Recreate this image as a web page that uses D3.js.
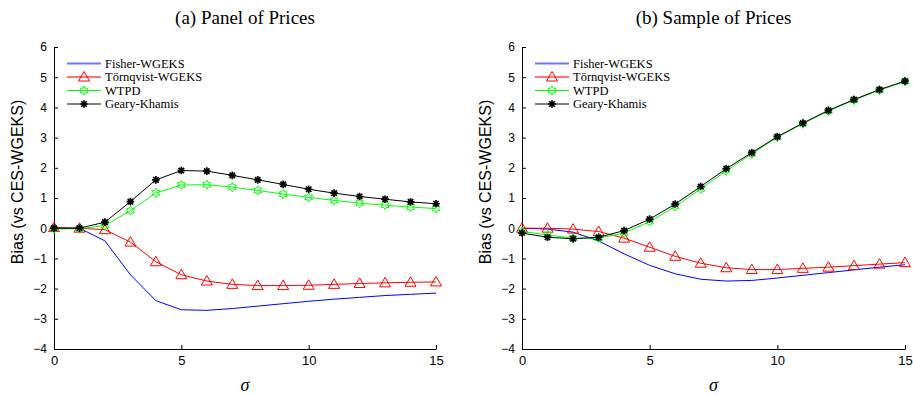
<!DOCTYPE html>
<html>
<head>
<meta charset="utf-8">
<script src="https://cdn.jsdelivr.net/npm/d3@7"></script>
<style>
  body { margin: 0; background: #fff; }
  .tick text { font-family: 'Liberation Sans', Arial, sans-serif; }
</style>
</head>
<body>
<svg id="chart" width="913" height="396"></svg>
<script>
// sigma values on the x axis
const sigma = [0, 1, 2, 3, 4, 5, 6, 7, 8, 9, 10, 11, 12, 13, 14, 15]
const xTicks = [0, 5, 10, 15]
const yTicks = [-4, -3, -2, -1, 0, 1, 2, 3, 4, 5, 6]

// (a) Panel of Prices
const fisherA = [0, 0, -0.42, -1.54, -2.40, -2.70, -2.72, -2.66, -2.58, -2.50, -2.42, -2.35, -2.29, -2.23, -2.19, -2.15]
const tornqvistA = [0.02, 0.0, -0.05, -0.46, -1.11, -1.54, -1.75, -1.86, -1.90, -1.90, -1.89, -1.86, -1.83, -1.81, -1.79, -1.78]
const wtpdA = [-0.02, -0.02, 0.09, 0.58, 1.17, 1.43, 1.44, 1.36, 1.25, 1.13, 1.02, 0.92, 0.83, 0.76, 0.70, 0.65]
const gearyA = [0, 0, 0.20, 0.88, 1.60, 1.91, 1.89, 1.75, 1.60, 1.45, 1.29, 1.16, 1.05, 0.96, 0.87, 0.81]

// (b) Sample of Prices
const fisherB = [0, -0.03, -0.13, -0.42, -0.85, -1.23, -1.51, -1.69, -1.75, -1.73, -1.65, -1.56, -1.47, -1.38, -1.29, -1.21]
const tornqvistB = [0.0, 0.0, -0.03, -0.11, -0.33, -0.63, -0.93, -1.16, -1.31, -1.37, -1.37, -1.33, -1.29, -1.24, -1.19, -1.14]
const wtpdB = [-0.11, -0.22, -0.33, -0.33, -0.16, 0.22, 0.72, 1.30, 1.90, 2.46, 3.01, 3.46, 3.88, 4.24, 4.57, 4.86]
const gearyB = [-0.16, -0.30, -0.35, -0.30, -0.08, 0.30, 0.80, 1.38, 1.97, 2.50, 3.03, 3.48, 3.90, 4.26, 4.59, 4.87]

const seriesNames = ['Fisher-WGEKS', 'Törnqvist-WGEKS', 'WTPD', 'Geary-Khamis']
const seriesColors = ['#0000ff', '#ff0000', '#00ff00', '#000000']
const seriesMarkers = ['none', 'triangle', 'hexagram', 'asterisk']

const svg = d3.select('#chart')

// marker paths, centred on 0,0
const markerPath = (type) => {
  if (type === 'triangle') {
    return 'M0,-5.5L5.5,4L-5.5,4Z'
  }
  if (type === 'hexagram') {
    const r = 4.5
    const ri = r / Math.sqrt(3)
    const pts = d3.range(12).map((i) => {
      const a = (i * Math.PI) / 6 - Math.PI / 2
      const rr = i % 2 === 0 ? r : ri
      return [rr * Math.cos(a), rr * Math.sin(a)]
    })
    return 'M' + pts.join('L') + 'Z'
  }
  if (type === 'asterisk') {
    const r = 3.8
    const d = r * 0.72
    return `M${-r},0L${r},0M0,${-r}L0,${r}M${-d},${-d}L${d},${d}M${-d},${d}L${d},${-d}`
  }
  return null
}

const drawMarkers = (g, pts, type, color) => {
  const p = markerPath(type)
  if (!p) return
  g.selectAll(null)
    .data(pts)
    .join('path')
    .attr('transform', (d) => `translate(${d[0]},${d[1]})`)
    .attr('d', p)
    .attr('fill', 'none')
    .attr('stroke', color)
    .attr('stroke-width', type === 'asterisk' ? 1.7 : 1)
}

const drawPanel = (opts) => {
  const { left, right, top, bottom, title, series } = opts

  const xScale = d3.scaleLinear().domain([0, 15]).range([left, right])
  const yScale = d3.scaleLinear().domain([-4, 6]).range([bottom, top])

  const g = svg.append('g')

  // Draw bottom axis
  g.append('g')
    .attr('transform', `translate(0,${bottom})`)
    .call(d3.axisBottom(xScale).tickValues(xTicks).tickSizeInner(-4).tickSizeOuter(0).tickPadding(7))
    .call((a) => a.selectAll('text').style('font-size', '13px'))

  // Draw left axis
  g.append('g')
    .attr('transform', `translate(${left},0)`)
    .call(d3.axisLeft(yScale).tickValues(yTicks).tickSizeInner(-4).tickSizeOuter(0).tickPadding(7))
    .call((a) => a.selectAll('text').style('font-size', '12px'))

  // Draw data
  const line = d3.line().x((d) => d[0]).y((d) => d[1])
  series.forEach((vals, i) => {
    const pts = sigma.map((s, j) => [xScale(s), yScale(vals[j])])
    g.append('path')
      .attr('d', line(pts))
      .attr('fill', 'none')
      .attr('stroke', seriesColors[i])
      .attr('stroke-width', 1)
    drawMarkers(g.append('g'), pts, seriesMarkers[i], seriesColors[i])
  })

  // title
  svg.append('text')
    .attr('x', (left + right) / 2)
    .attr('y', 24)
    .attr('text-anchor', 'middle')
    .style('font-family', "'Liberation Serif', 'Times New Roman', serif")
    .style('font-size', '19px')
    .text(title)

  // x label
  svg.append('text')
    .attr('x', (left + right) / 2)
    .attr('y', 391)
    .attr('text-anchor', 'middle')
    .style('font-family', "'Liberation Serif', 'Times New Roman', serif")
    .style('font-style', 'italic')
    .style('font-size', '18px')
    .text('σ')

  // y label
  svg.append('text')
    .attr('transform', `translate(${left - 31},182) rotate(-90)`)
    .attr('text-anchor', 'middle')
    .style('font-family', "'Liberation Sans', Arial, sans-serif")
    .style('font-size', '16px')
    .text('Bias (vs CES-WGEKS)')

  // legend
  const leg = svg.append('g').attr('transform', `translate(${left + 13},63.5)`)
  seriesNames.forEach((name, i) => {
    const row = leg.append('g').attr('transform', `translate(0,${i * 13.5})`)
    row.append('line')
      .attr('x1', 0).attr('x2', 34)
      .attr('stroke', seriesColors[i])
      .attr('stroke-width', i < 2 ? 2 : 1)
      .attr('stroke-opacity', i < 2 ? 0.55 : 1)
    drawMarkers(row, [[17, 0]], seriesMarkers[i], seriesColors[i])
    row.append('text')
      .attr('x', 38)
      .attr('dy', '0.35em')
      .style('font-family', "'Liberation Serif', 'Times New Roman', serif")
      .style('font-size', '12.5px')
      .text(name)
  })
}

drawPanel({ left: 54, right: 436, top: 47, bottom: 349, title: '(a) Panel of Prices', series: [fisherA, tornqvistA, wtpdA, gearyA] })
drawPanel({ left: 522, right: 905, top: 47, bottom: 349, title: '(b) Sample of Prices', series: [fisherB, tornqvistB, wtpdB, gearyB] })
</script>
</body>
</html>
